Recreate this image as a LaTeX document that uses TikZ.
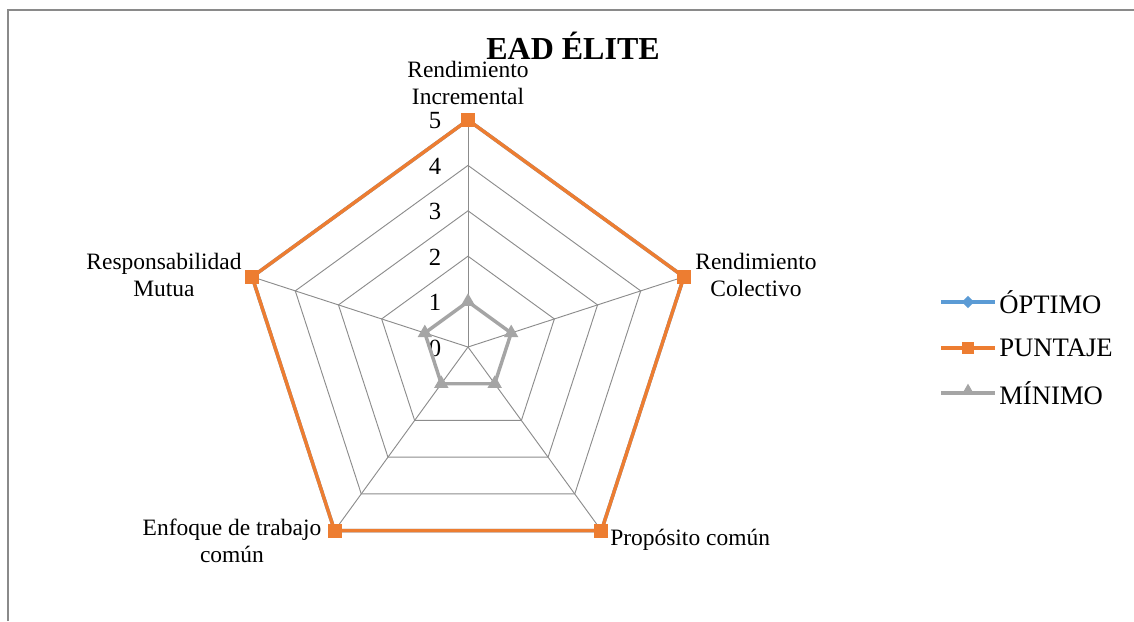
\documentclass[tikz,border=0pt]{standalone}
\usepackage{fontspec}
\setmainfont{Liberation Serif}
\usetikzlibrary{shapes.geometric}
\definecolor{optblue}{HTML}{5B9BD5}
\definecolor{puntorange}{HTML}{ED7D31}
\definecolor{mingray}{HTML}{A5A5A5}
\definecolor{gridgray}{HTML}{8C8C8C}
\definecolor{framegray}{HTML}{8A8A8A}
\begin{document}
\begin{tikzpicture}[x=0.75pt,y=-0.75pt,
  lbl/.style={font=\fontsize{17.6}{20.3}\selectfont, align=center, inner sep=0pt},
  legendlbl/.style={font=\fontsize{20}{23}\selectfont, inner sep=0pt, anchor=west},
  titlefont/.style={font=\fontsize{24}{28}\selectfont\bfseries, inner sep=0pt},
  gridline/.style={draw=gridgray, line width=0.7pt},
  frameline/.style={draw=framegray, line width=1.1pt},
  series/.style={line width=2.6pt, line join=round},
  sqmark/.style={rectangle, fill=puntorange, minimum size=10.5pt, inner sep=0pt},
  sqsmall/.style={rectangle, fill=puntorange, minimum size=8.5pt, inner sep=0pt},
  trimark/.style={regular polygon, regular polygon sides=3, fill=mingray, minimum size=12.5pt, inner sep=0pt},
  trismall/.style={regular polygon, regular polygon sides=3, fill=mingray, minimum size=11pt, inner sep=0pt},
  diamark/.style={diamond, fill=optblue, minimum size=9.5pt, inner sep=0pt},
]
\useasboundingbox (0,0) rectangle (1134,621);
% chart area border
\draw[frameline] (8,621) -- (8,10) -- (1134,10);

% radar grid: five pentagons and five spokes
\foreach \k in {1,...,5}{
  \draw[gridline] (468,{347-45.4*\k})
    \foreach \i in {1,...,4}{ -- ({468+45.4*\k*cos(90-72*\i)},{347-45.4*\k*sin(90-72*\i)}) } -- cycle;
}
\coordinate (c) at (468,347);
\foreach \i in {0,...,4}{
  \coordinate (o\i) at ({468+227*cos(90-72*\i)},{347-227*sin(90-72*\i)});
  \coordinate (m\i) at ({468+45.4*cos(90-72*\i)},{347-45.4*sin(90-72*\i)});
  \draw[gridline] (c) -- (o\i);
}

% scale labels
\foreach \v in {0,...,5}{
  \node[lbl, font=\fontsize{18.5}{21}\selectfont] (tick\v) at (435,{348-45.4*\v}) {\v};
}

% series
\draw[series, optblue] (o0) -- (o1) -- (o2) -- (o3) -- (o4) -- cycle;
\foreach \i in {0,...,4}{ \node[diamark] (od\i) at (o\i) {}; }
\draw[series, puntorange] (o0) -- (o1) -- (o2) -- (o3) -- (o4) -- cycle;
\foreach \i in {0,...,4}{ \node[sqmark] (ps\i) at (o\i) {}; }
\draw[series, mingray] (m0) -- (m1) -- (m2) -- (m3) -- (m4) -- cycle;
\foreach \i in {0,...,4}{ \node[trimark] (mt\i) at (m\i) {}; }

% axis labels
\node[lbl] (ax0) at (468,83) {Rendimiento\\Incremental};
\node[lbl] (ax1) at (756,275) {Rendimiento\\Colectivo};
\node[lbl, anchor=west] (ax2) at (610,540) {Propósito común};
\node[lbl] (ax3) at (232,541) {Enfoque de trabajo\\común};
\node[lbl] (ax4) at (164,275) {Responsabilidad\\Mutua};

% title
\node[titlefont] (title) at (573,46) {EAD ÉLITE};

% legend
\coordinate (la0) at (941,302); \coordinate (lb0) at (995,302);
\coordinate (la1) at (941,348); \coordinate (lb1) at (995,348);
\coordinate (la2) at (941,393); \coordinate (lb2) at (995,393);
\draw[series, optblue] (la0) -- (lb0);
\node[diamark] (lgm0) at (968,302) {};
\node[legendlbl] (lg0) at (999,302) {ÓPTIMO};
\draw[series, puntorange] (la1) -- (lb1);
\node[sqsmall] (lgm1) at (968,348) {};
\node[legendlbl] (lg1) at (999,348) {PUNTAJE};
\draw[series, mingray] (la2) -- (lb2);
\node[trismall] (lgm2) at (968,391) {};
\node[legendlbl] (lg2) at (999,393) {MÍNIMO};
\end{tikzpicture}
\end{document}
